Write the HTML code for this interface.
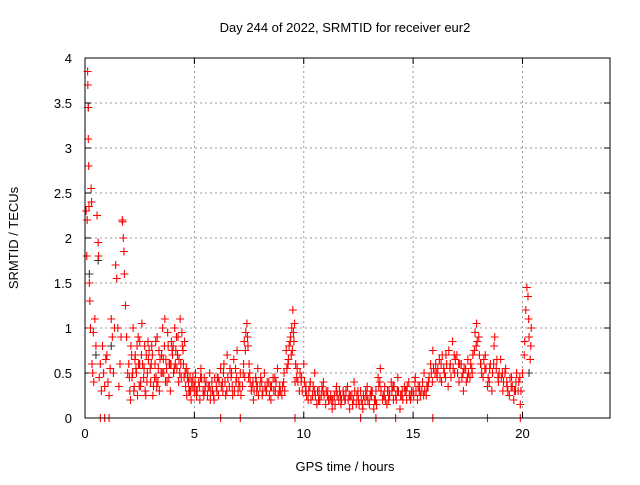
<!DOCTYPE html>
<html><head><meta charset="utf-8"><style>
body{margin:0;background:#fff;}
svg text{font-family:"Liberation Sans",sans-serif;font-size:13px;fill:#000;}
</style></head><body>
<svg id="chart" width="640" height="480">
<text x="345" y="32" text-anchor="middle">Day 244 of 2022, SRMTID for receiver eur2</text>
<text x="345" y="471" text-anchor="middle">GPS time / hours</text>
<text transform="translate(18,238) rotate(-90)" text-anchor="middle">SRMTID / TECUs</text>
<g id="grid"></g>
<g id="ticks"></g>
<g id="marks"></g>
<rect x="85" y="58" width="525" height="360" fill="none" stroke="#000" stroke-width="1"/>
</svg>
<script>
const xTicks=[0,5,10,15,20];
const yTicks=[0,0.5,1,1.5,2,2.5,3,3.5,4];
const yTickLabels=["0","0.5","1","1.5","2","2.5","3","3.5","4"];
const hoursA=[0.05,0.08,0.1,0.12,0.13,0.15,0.15,0.17,0.18,0.2,
0.22,0.25,0.28,0.3,0.32,0.35,0.38,0.4,0.45,0.5,
0.55,0.6,0.62,0.65,0.7,0.75,0.8,0.85,0.9,0.95,
1.0,1.05,1.1,1.15,1.2,1.25,1.3,1.35,1.4,1.45,
1.5,1.55,1.6,1.65,1.7,1.72,1.75,1.78,1.8,1.85,
1.9,1.95,2.0,2.05,2.1,2.15,2.2,2.25,2.3,2.35,
2.4,2.45,2.5,2.55,2.6,2.7,2.75,2.8,2.85,2.9,
3.0,3.05,3.1,3.2,3.25,3.3,3.35,3.4,3.5,3.55,
3.6,3.65,3.7,3.75,3.8,3.85,3.9,3.95,4.0,4.05,
4.1,4.15,4.2,4.25,4.3,4.35,4.4,4.45,4.5,4.55,
4.6,4.65,4.7,4.75,4.8,4.85,4.9,5.0,5.05,5.1,
5.2,5.25,5.3,5.4,5.45,5.5,5.6,5.7,5.75,5.8,
5.9,6.0,6.05,6.1,6.2,6.3,6.35,6.4,6.5,6.6,
6.7,6.75,6.8,6.9,6.95,7.0,7.1,7.2,7.25,7.3,
7.35,7.4,7.45,7.5,7.55,7.6,7.7,7.8,7.85,7.9,
8.0,8.1,8.2,8.3,8.4,8.5,8.6,8.7,8.8,8.9,
9.0,9.1,9.2,9.3,9.4,9.45,9.5,9.55,9.6,9.7,
9.8,9.9,10.0,10.1,10.2,10.3,10.4,10.5,10.6,10.7,
10.8,10.9,11.0,11.1,11.2,11.3,11.4,11.5,11.6,11.7,
11.8,11.9,12.0,12.1,12.2,12.3,12.4,12.5,12.6,12.7,
12.8,12.9,13.0,13.1,13.2,13.3,13.4,13.5,13.6,13.7,
13.8,13.9,14.0,14.1,14.2,14.3,14.4,14.5,14.6,14.7,
14.8,14.9,15.0,15.1,15.2,15.3,15.4,15.5,15.6,15.7,
15.8,15.9,16.0,16.1,16.2,16.3,16.4,16.5,16.6,16.7,
16.8,16.9,17.0,17.1,17.2,17.3,17.4,17.5,17.6,17.7,
17.8,17.9,18.0,18.1,18.2,18.3,18.4,18.5,18.6,18.7,
18.8,18.9,19.0,19.1,19.2,19.3,19.4,19.5,19.6,19.7,
19.8,19.9,20.0,20.1,20.15,20.2,20.25,20.3,20.35,20.4,
0.7,0.9,1.1,6.2,7.1,9.6,12.6,13.3,14.2,15.9,18.4,19.9];
const tecuA=[2.3,1.8,2.2,3.85,3.7,3.45,3.1,2.8,2.35,1.5,
1.3,1.0,2.55,2.4,0.6,0.5,0.95,0.4,1.1,0.8,
2.25,1.95,1.8,0.45,0.6,0.3,0.8,0.5,0.35,0.65,
0.7,0.4,0.25,0.55,1.1,0.9,0.5,1.0,1.7,1.55,
1.0,0.35,0.6,0.9,2.2,2.18,2.0,1.85,1.6,1.25,
0.9,0.5,0.6,0.3,0.8,0.45,1.0,0.35,0.7,0.5,
0.25,0.6,0.85,0.4,1.05,0.55,0.3,0.7,0.5,0.65,
0.4,0.8,0.25,0.6,0.45,0.9,0.55,0.3,0.7,1.0,
0.5,1.1,0.65,0.4,0.8,0.6,0.3,0.85,0.7,0.5,
1.0,0.75,0.55,0.9,0.65,1.1,0.45,0.8,0.6,0.85,
0.35,0.25,0.5,0.3,0.45,0.2,0.35,0.3,0.5,0.25,
0.4,0.2,0.55,0.3,0.45,0.35,0.25,0.5,0.3,0.4,
0.2,0.35,0.45,0.25,0.55,0.3,0.6,0.4,0.7,0.35,
0.5,0.25,0.65,0.4,0.75,0.3,0.5,0.35,0.6,0.45,
0.95,1.05,0.8,0.6,0.4,0.3,0.2,0.45,0.3,0.55,
0.35,0.25,0.5,0.3,0.4,0.2,0.45,0.3,0.55,0.35,
0.25,0.5,0.75,0.65,0.9,1.0,1.2,0.85,0.4,0.55,
0.3,0.45,0.6,0.35,0.2,0.4,0.25,0.5,0.15,0.3,
0.25,0.4,0.15,0.3,0.2,0.1,0.25,0.35,0.2,0.15,
0.3,0.2,0.35,0.1,0.25,0.4,0.15,0.2,0.3,0.1,
0.2,0.35,0.15,0.25,0.1,0.3,0.45,0.55,0.2,0.35,
0.15,0.3,0.4,0.2,0.25,0.45,0.1,0.3,0.35,0.2,
0.4,0.25,0.3,0.45,0.2,0.35,0.3,0.5,0.25,0.4,
0.6,0.75,0.5,0.45,0.65,0.4,0.55,0.7,0.35,0.6,
0.85,0.5,0.7,0.4,0.6,0.3,0.55,0.65,0.45,0.5,
0.75,1.05,0.9,0.6,0.45,0.7,0.35,0.55,0.3,0.8,
0.55,0.4,0.65,0.3,0.5,0.35,0.25,0.45,0.2,0.4,
0.3,0.15,0.5,0.85,1.2,1.45,1.35,0.9,0.65,1.0,
0,0,0,0,0,0,0,0,0,0,0,0];
const hoursB=[2.03,2.13,2.23,2.33,2.43,2.53,2.63,2.73,2.83,2.93,
3.03,3.13,3.23,3.33,3.43,3.53,3.63,3.73,3.83,3.93,
4.03,4.13,4.23,4.33,4.43,4.53,4.63,4.73,4.83,4.93,
5.03,5.13,5.23,5.33,5.43,5.53,5.63,5.73,5.83,5.93,
6.03,6.13,6.23,6.33,6.43,6.53,6.63,6.73,6.83,6.93,
7.03,7.13,7.23,7.33,7.43,7.53,7.63,7.73,7.83,7.93,
8.03,8.13,8.23,8.33,8.43,8.53,8.63,8.73,8.83,8.93,
9.03,9.13,9.23,9.33,9.43,9.53,9.63,9.73,9.83,9.93,
10.03,10.13,10.23,10.33,10.43,10.53,10.63,10.73,10.83,10.93,
11.03,11.13,11.23,11.33,11.43,11.53,11.63,11.73,11.83,11.93,
12.03,12.13,12.23,12.33,12.43,12.53,12.63,12.73,12.83,12.93,
13.03,13.13,13.23,13.33,13.43,13.53,13.63,13.73,13.83,13.93,
14.03,14.13,14.23,14.33,14.43,14.53,14.63,14.73,14.83,14.93,
15.03,15.13,15.23,15.33,15.43,15.53,15.63,15.73,15.83,15.93,
16.03,16.13,16.23,16.33,16.43,16.53,16.63,16.73,16.83,16.93,
17.03,17.13,17.23,17.33,17.43,17.53,17.63,17.73,17.83,17.93,
18.03,18.13,18.23,18.33,18.43,18.53,18.63,18.73,18.83,18.93,
19.03,19.13,19.23,19.33,19.43,19.53,19.63,19.73,19.83,19.93];
const tecuB=[0.45,0.7,0.3,0.55,0.9,0.35,0.6,0.8,0.4,0.75,
0.6,0.35,0.85,0.4,0.65,0.5,0.8,0.55,0.45,0.6,
0.8,0.6,0.7,0.5,0.95,0.45,0.55,0.4,0.3,0.45,
0.4,0.3,0.35,0.45,0.25,0.4,0.35,0.2,0.3,0.45,
0.3,0.4,0.35,0.5,0.25,0.45,0.55,0.35,0.3,0.45,
0.4,0.25,0.5,0.75,0.9,0.5,0.35,0.3,0.4,0.25,
0.45,0.3,0.35,0.4,0.25,0.35,0.3,0.4,0.25,0.3,
0.35,0.3,0.55,0.8,0.7,0.95,0.6,0.4,0.5,0.3,
0.4,0.25,0.3,0.2,0.35,0.25,0.3,0.2,0.35,0.25,
0.3,0.2,0.25,0.2,0.15,0.25,0.3,0.2,0.25,0.3,
0.2,0.25,0.15,0.3,0.25,0.15,0.2,0.25,0.3,0.2,
0.25,0.3,0.2,0.15,0.35,0.3,0.25,0.2,0.3,0.25,
0.3,0.35,0.2,0.3,0.25,0.2,0.3,0.35,0.25,0.3,
0.25,0.3,0.35,0.25,0.4,0.3,0.35,0.45,0.5,0.55,
0.6,0.55,0.45,0.7,0.5,0.6,0.75,0.45,0.55,0.65,
0.5,0.6,0.45,0.55,0.4,0.5,0.6,0.7,0.95,0.85,
0.7,0.5,0.65,0.55,0.45,0.6,0.5,0.9,0.65,0.5,
0.45,0.4,0.55,0.3,0.45,0.35,0.3,0.5,0.4,0.3];
const hoursC=[2.08,2.18,2.28,2.38,2.48,2.58,2.68,2.78,2.88,2.98,
3.08,3.18,3.28,3.38,3.48,3.58,3.68,3.78,3.88,3.98,
4.08,4.18,4.28,4.38,4.48,4.58,4.68,4.78,4.88,4.98,
5.08,5.28,5.48,5.68,5.88,6.08,6.28,6.48,6.68,6.88,
7.08,7.28,7.48,7.68,7.88,8.08,8.28,8.48,8.68,8.88,
9.08,9.28,9.38,9.48,9.58,9.68,9.88,10.08,10.28,10.48,
10.68,10.88,11.08,11.28,11.48,11.68,11.88,12.08,12.28,12.48,
12.68,12.88,13.08,13.28,13.48,13.68,13.88,14.08,14.28,14.48,
14.68,14.88,15.08,15.28,15.48,15.68,15.88,16.08,16.28,16.48,
16.68,16.88,17.08,17.28,17.48,17.68,17.88,18.08,18.28,18.48,
18.68,18.88,19.08,19.28,19.48,19.68,19.88,20.08,20.28,20.38];
const tecuC=[0.2,0.5,0.65,0.8,0.35,0.7,0.45,0.25,0.85,0.55,
0.7,0.45,0.35,0.75,0.5,0.65,0.4,0.95,0.6,0.75,
0.55,0.9,0.4,0.6,0.75,0.5,0.45,0.3,0.4,0.35,
0.3,0.45,0.3,0.35,0.25,0.45,0.4,0.3,0.45,0.55,
0.35,0.85,0.45,0.4,0.35,0.4,0.3,0.35,0.45,0.3,
0.4,0.6,0.85,0.75,1.05,0.45,0.4,0.3,0.35,0.3,
0.2,0.3,0.25,0.2,0.3,0.25,0.2,0.25,0.2,0.3,
0.15,0.25,0.3,0.2,0.4,0.25,0.2,0.35,0.3,0.25,
0.3,0.2,0.4,0.3,0.25,0.35,0.4,0.5,0.6,0.45,
0.55,0.7,0.6,0.5,0.45,0.55,0.8,0.6,0.55,0.4,
0.6,0.45,0.5,0.4,0.35,0.3,0.45,0.7,1.1,0.8];
const hoursK=[0.15,0.2,0.5,0.6,1.2,2.5,9.6,20.3];
const tecuK=[3.45,1.6,0.7,1.75,0.8,0.6,0.4,0.5];

const X0=85,X1=610,Y0=418,Y1=58;
const xScale=h=>X0+(h/24)*(X1-X0);
const yScale=v=>Y0-(v/4)*(Y0-Y1);
const NS="http://www.w3.org/2000/svg";
const grid=document.getElementById('grid'),ticks=document.getElementById('ticks'),marks=document.getElementById('marks');
function mk(tag,attrs,parent){const e=document.createElementNS(NS,tag);for(const k in attrs)e.setAttribute(k,attrs[k]);parent.appendChild(e);return e;}
xTicks.forEach(t=>{const x=xScale(t);
 if(t>0){const g=mk('line',{x1:x,x2:x,y1:Y0,y2:Y1,stroke:'#999','stroke-dasharray':'2,3'},grid);
 
 }
 const l=mk('text',{x:x,y:Y0+20,'text-anchor':'middle'},ticks);l.textContent=t;
 
 
 mk('line',{x1:x,x2:x,y1:Y0,y2:Y0-6,stroke:'#000'},ticks);mk('line',{x1:x,x2:x,y1:Y1,y2:Y1+6,stroke:'#000'},ticks);});
yTicks.forEach((t,i)=>{const y=yScale(t);
 if(t>0&&t<4){const g=mk('line',{x1:X0,x2:X1,y1:y,y2:y,stroke:'#999','stroke-dasharray':'2,3'},grid);
 
 }
 const l=mk('text',{x:X0-13,y:y+5,'text-anchor':'end'},ticks);l.textContent=yTickLabels[i];
 
 
 mk('line',{x1:X0,x2:X0+6,y1:y,y2:y,stroke:'#000'},ticks);mk('line',{x1:X1,x2:X1-6,y1:y,y2:y,stroke:'#000'},ticks);});
function plot(hs,vs,color,name){let d='';
 hs.forEach((h,i)=>{const x=xScale(h),y=yScale(vs[i]);d+=`M${x-4},${y}h8M${x},${y-4}v8`;});
 const p=mk('path',{d:d,stroke:color,'stroke-width':1.1,fill:'none'},marks);
 
 }
plot(hoursK,tecuK,'#333','series-black-points');
plot(hoursA,tecuA,'#ff0000','series-red-points');
plot(hoursB,tecuB,'#ff0000','series-red-points-b');
plot(hoursC,tecuC,'#ff0000','series-red-points-c');
</script>
</body></html>
